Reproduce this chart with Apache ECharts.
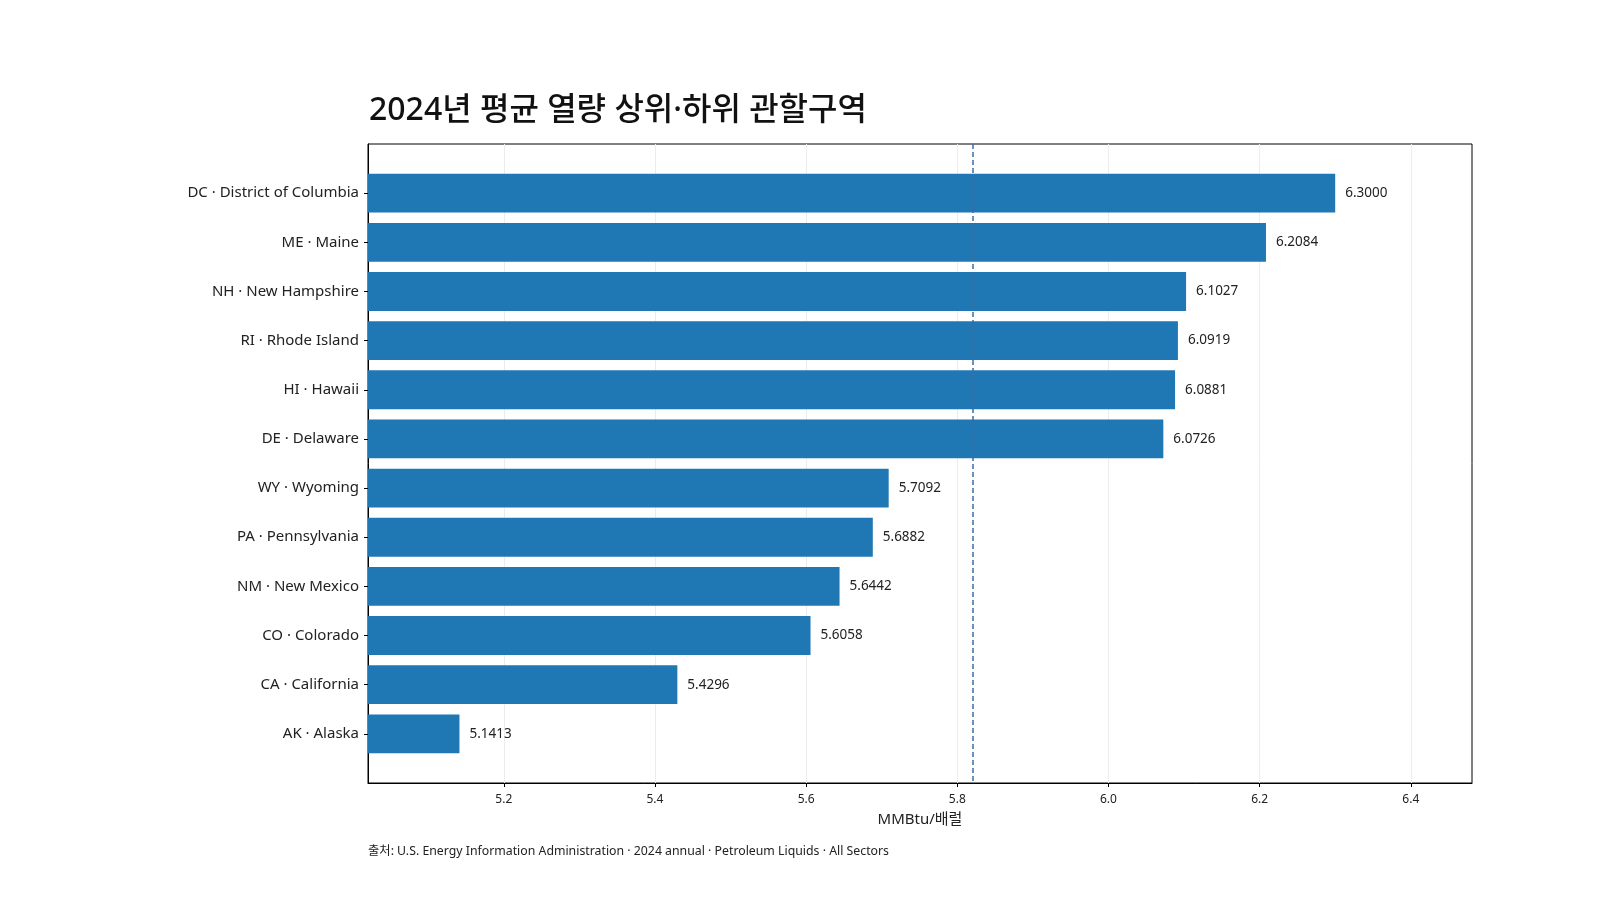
<!DOCTYPE html>
<html>
<head>
<meta charset="utf-8">
<script src="https://cdn.jsdelivr.net/npm/echarts@6/dist/echarts.min.js"></script>
<style>
html,body{margin:0;padding:0;background:#fff;}
#chart{width:1600px;height:900px;}
</style>
</head>
<body>
<div id="chart"></div>
<script>
const categories = [
  'DC · District of Columbia','ME · Maine','NH · New Hampshire','RI · Rhode Island',
  'HI · Hawaii','DE · Delaware','WY · Wyoming','PA · Pennsylvania',
  'NM · New Mexico','CO · Colorado','CA · California','AK · Alaska'
];
const values = [6.3000, 6.2084, 6.1027, 6.0919, 6.0881, 6.0726, 5.7092, 5.6882, 5.6442, 5.6058, 5.4296, 5.1413];
const xTicks = [5.2, 5.4, 5.6, 5.8, 6.0, 6.2, 6.4];
const referenceLine = 5.822;
const xMin = 5.0203;
const xMax = 6.481;
const titleText = '2024년 평균 열량 상위·하위 관할구역';
const axisName = 'MMBtu/배럴';
const sourceText = '출처: U.S. Energy Information Administration · 2024 annual · Petroleum Liquids · All Sectors';

const FONT = '"Noto Sans", "Noto Sans CJK KR", sans-serif';
const yData = [''].concat(categories, ['']);
const barData = ['-'].concat(values, ['-']);

const chart = echarts.init(document.getElementById('chart'));
chart.setOption({
  animation: false,
  backgroundColor: '#fff',
  textStyle: { fontFamily: FONT },
  title: {
    text: titleText,
    left: 364, top: 90,
    textStyle: { fontFamily: FONT, fontSize: 32, fontWeight: 500, color: '#111' }
  },
  grid: {
    left: 368, right: 128, top: 144, bottom: 117,
    show: true, borderColor: '#000', borderWidth: 1, backgroundColor: 'transparent'
  },
  xAxis: {
    type: 'value', min: xMin, max: xMax,
    name: axisName, nameLocation: 'middle', nameGap: 29,
    nameTextStyle: { fontFamily: FONT, fontSize: 15, color: '#222' },
    axisLine: { show: true, lineStyle: { color: '#000', width: 1 } },
    axisTick: { show: true, length: 4, lineStyle: { color: '#000' }, customValues: xTicks },
    axisLabel: { customValues: xTicks, margin: 11, fontSize: 12, color: '#222', fontFamily: FONT,
      formatter: v => (Math.round(v * 10) / 10).toFixed(1) },
    splitLine: { show: true, lineStyle: { color: '#ececec', width: 1 } }
  },
  yAxis: {
    type: 'category', data: yData, inverse: true, boundaryGap: false,
    axisLine: { show: true, lineStyle: { color: '#000', width: 1 } },
    axisTick: { show: true, length: 4, lineStyle: { color: '#000' },
      interval: (i) => i > 0 && i < yData.length - 1 },
    axisLabel: { margin: 9, fontSize: 15, color: '#222', fontFamily: FONT,
      interval: (i) => i > 0 && i < yData.length - 1 },
    splitLine: { show: false }
  },
  series: [
    {
      type: 'line', data: [], z: 1,
      markLine: {
        silent: true, symbol: 'none', label: { show: false },
        lineStyle: { type: [5, 3], color: '#3a6ea5', width: 1.5 },
        data: [{ xAxis: referenceLine }]
      }
    },
    {
      type: 'bar', data: barData, barWidth: '79%', z: 2,
      itemStyle: { color: '#1f77b4' },
      label: {
        show: true, position: 'right', distance: 10,
        fontSize: 13.5, color: '#222', fontFamily: FONT,
        formatter: p => (typeof p.value === 'number' ? p.value.toFixed(4) : '')
      }
    }
  ],
  graphic: [{
    type: 'text', left: 368, top: 845,
    style: { text: sourceText, fontSize: 12.3, fill: '#222', fontFamily: FONT }
  }]
});
</script>
</body>
</html>
